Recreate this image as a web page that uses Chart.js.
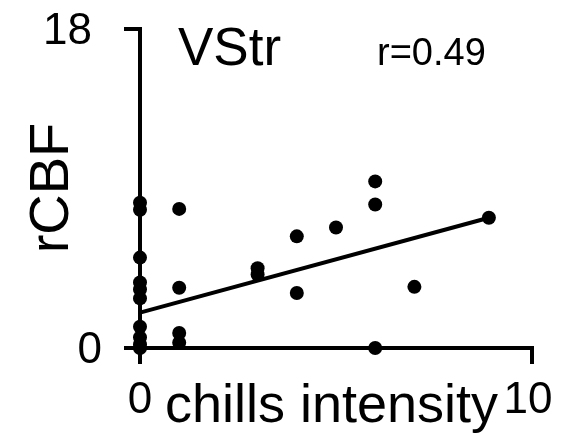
<!DOCTYPE html>
<html>
<head>
<meta charset="utf-8">
<script src="https://cdn.jsdelivr.net/npm/chart.js@4/dist/chart.umd.min.js"></script>
<style>
  html, body { margin: 0; padding: 0; background: #fff; }
  #wrap { width: 565px; height: 443px; }
</style>
</head>
<body>
<div id="wrap"><canvas id="c" width="565" height="443"></canvas></div>
<script>
// ---- data ----
const chillsX = [0, 0, 0, 0, 0, 0, 0, 0, 0, 0, 1, 1, 1, 1, 3, 3, 4, 4, 5, 6, 6, 6, 7, 8.9];
const rcbfY   = [8.2, 7.8, 5.1, 3.7, 3.3, 2.8, 1.2, 0.6, 0.2, 0, 7.85, 3.4, 0.85, 0.3, 4.5, 4.15, 6.3, 3.1, 6.8, 9.4, 8.1, 0, 3.45, 7.35];
const fitX = [0, 8.9];
const fitY = [2.0, 7.35];
const xTicks = [0, 10];
const yTicks = [0, 18];
const regionLabel = 'VStr';
const corrLabel = 'r=0.49';
const xTitle = 'chills intensity';
const yTitle = 'rCBF';

const FONT = "'Liberation Sans', Arial, Helvetica, sans-serif";

const points = chillsX.map((x, i) => ({ x: x, y: rcbfY[i] }));
const fitLine = fitX.map((x, i) => ({ x: x, y: fitY[i] }));

const textPlugin = {
  id: 'texts',
  afterDraw(chart) {
    const ctx = chart.ctx;
    const xs = chart.scales.x, ys = chart.scales.y;
    ctx.save();
    ctx.fillStyle = '#000';
    // tick labels
    ctx.font = '44px ' + FONT;
    ctx.textAlign = 'right';
    ctx.textBaseline = 'middle';
    yTicks.forEach(v => {
      ctx.fillText(String(v), v === 0 ? 102 : 92, ys.getPixelForValue(v) + 3);
    });
    ctx.textAlign = 'center';
    ctx.textBaseline = 'alphabetic';
    xTicks.forEach(v => {
      ctx.fillText(String(v), xs.getPixelForValue(v) - (v === 0 ? 0 : 4), 413);
    });
    // texts
    ctx.textAlign = 'left';
    ctx.font = '53px ' + FONT;
    ctx.fillText(regionLabel, 178, 65);
    ctx.font = '38px ' + FONT;
    ctx.fillText(corrLabel, 377, 65);
    ctx.font = '54px ' + FONT;
    ctx.fillText(xTitle, 165, 422);
    ctx.translate(68, 188);
    ctx.rotate(-Math.PI / 2);
    ctx.textAlign = 'center';
    ctx.font = '56px ' + FONT;
    ctx.fillText(yTitle, 0, 0);
    ctx.restore();
  }
};

new Chart(document.getElementById('c'), {
  type: 'scatter',
  data: {
    datasets: [
      {
        type: 'line',
        data: fitLine,
        borderColor: '#000',
        borderWidth: 4,
        pointRadius: 0,
        fill: false,
        clip: false,
        order: 2
      },
      {
        type: 'scatter',
        data: points,
        backgroundColor: '#000',
        borderColor: '#000',
        pointRadius: 7,
        borderWidth: 0,
        clip: false,
        order: 1
      }
    ]
  },
  options: {
    responsive: false,
    animation: false,
    devicePixelRatio: 1,
    layout: { padding: { left: 0, top: 29, right: 33, bottom: 0 } },
    plugins: { legend: { display: false }, tooltip: { enabled: false } },
    scales: {
      x: {
        type: 'linear',
        min: 0, max: 10,
        afterBuildTicks: s => { s.ticks = xTicks.map(v => ({ value: v })); },
        afterFit: s => { s.height = 95; },
        grid: { drawOnChartArea: false, drawTicks: true, tickLength: 16, color: '#000', lineWidth: 4 },
        border: { display: true, color: '#000', width: 4 },
        ticks: { display: false }
      },
      y: {
        type: 'linear',
        min: 0, max: 18,
        afterBuildTicks: s => { s.ticks = yTicks.map(v => ({ value: v })); },
        afterFit: s => { s.width = 140; },
        grid: { drawOnChartArea: false, drawTicks: true, tickLength: 16, color: '#000', lineWidth: 4 },
        border: { display: true, color: '#000', width: 4 },
        ticks: { display: false }
      }
    }
  },
  plugins: [textPlugin]
});
</script>
</body>
</html>
